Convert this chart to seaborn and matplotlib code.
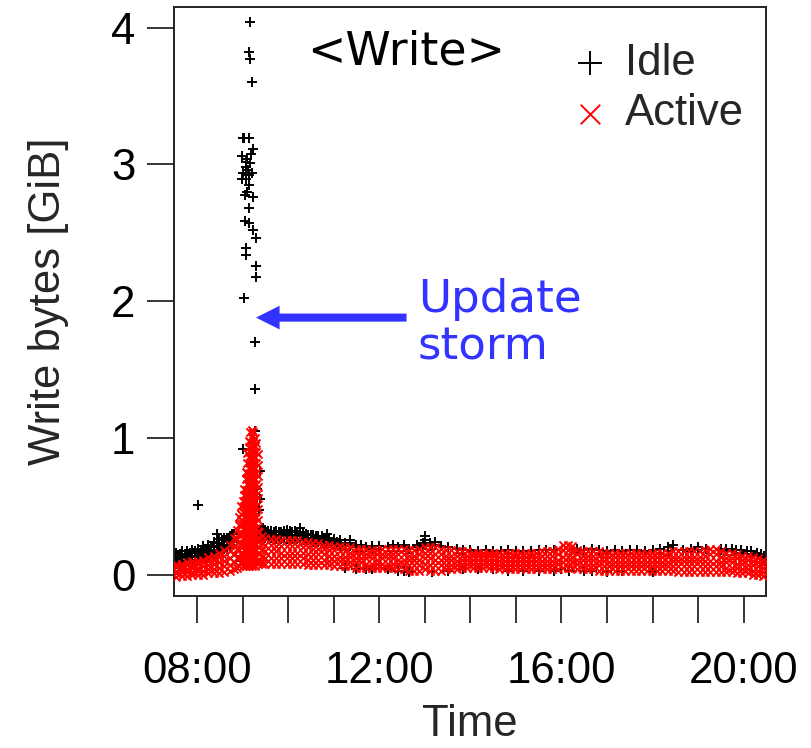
import matplotlib
matplotlib.use("Agg")
import matplotlib.pyplot as plt
import numpy as np
import pandas as pd
import seaborn as sns

# ---- data (time "HH:MM" -> write bytes in GiB) ----
# Active machines: one row per sample time, several machines per row.
active_rows = [
    ("07:33", [-0.02, 0.01, 0.03, 0.06, 0.08]),
    ("07:40", [-0.01, 0.02, 0.04, 0.06, 0.08]),
    ("07:47", [-0.01, 0.02, 0.04, 0.07, 0.09]),
    ("07:54", [0.00, 0.02, 0.05, 0.07, 0.10]),
    ("08:01", [0.00, 0.03, 0.05, 0.08, 0.10]),
    ("08:08", [0.00, 0.03, 0.06, 0.09, 0.11]),
    ("08:15", [0.01, 0.04, 0.07, 0.10, 0.13]),
    ("08:22", [0.01, 0.04, 0.08, 0.11, 0.14]),
    ("08:29", [0.01, 0.05, 0.09, 0.13, 0.16]),
    ("08:36", [0.02, 0.06, 0.10, 0.14, 0.18]),
    ("08:43", [0.03, 0.07, 0.12, 0.17, 0.22]),
    ("08:49", [0.04, 0.09, 0.15, 0.21, 0.27]),
    ("08:53", [0.05, 0.12, 0.19, 0.26, 0.33]),
    ("08:56", [0.06, 0.12, 0.18, 0.24, 0.30, 0.36, 0.42]),
    ("08:58", [0.09, 0.16, 0.23, 0.30, 0.37, 0.44, 0.50]),
    ("09:00", [0.06, 0.14, 0.22, 0.30, 0.38, 0.46, 0.54]),
    ("09:02", [0.10, 0.18, 0.26, 0.34, 0.42, 0.50, 0.58, 0.63]),
    ("09:04", [0.06, 0.14, 0.22, 0.30, 0.38, 0.46, 0.54, 0.62, 0.70, 0.75]),
    ("09:06", [0.10, 0.18, 0.26, 0.34, 0.42, 0.50, 0.58, 0.66, 0.74, 0.82, 0.89]),
    ("09:08", [0.06, 0.14, 0.22, 0.30, 0.38, 0.46, 0.54, 0.62, 0.70, 0.78, 0.86, 0.93, 0.98]),
    ("09:10", [0.10, 0.18, 0.26, 0.34, 0.42, 0.50, 0.58, 0.66, 0.74, 0.82, 0.90, 0.97, 1.04]),
    ("09:12", [0.06, 0.14, 0.22, 0.30, 0.38, 0.46, 0.54, 0.62, 0.70, 0.78, 0.86, 0.94, 1.01, 1.06]),
    ("09:14", [0.10, 0.18, 0.26, 0.34, 0.42, 0.50, 0.58, 0.66, 0.74, 0.82, 0.90, 0.98, 1.04]),
    ("09:16", [0.06, 0.14, 0.22, 0.30, 0.38, 0.46, 0.54, 0.62, 0.70, 0.78, 0.86, 0.94, 1.00]),
    ("09:18", [0.10, 0.18, 0.26, 0.34, 0.42, 0.50, 0.58, 0.66, 0.74, 0.82, 0.90, 0.96]),
    ("09:20", [0.08, 0.16, 0.24, 0.32, 0.40, 0.48, 0.56, 0.64, 0.72, 0.80, 0.88]),
    ("09:22", [0.10, 0.15, 0.20, 0.26, 0.31]),
    ("09:25", [0.08, 0.13, 0.18, 0.23, 0.28]),
    ("09:30", [0.08, 0.12, 0.17, 0.22, 0.27]),
    ("09:37", [0.08, 0.12, 0.17, 0.22, 0.26]),
    ("09:44", [0.08, 0.12, 0.17, 0.21, 0.26]),
    ("09:51", [0.08, 0.12, 0.16, 0.21, 0.25]),
    ("09:58", [0.08, 0.12, 0.16, 0.21, 0.25]),
    ("10:05", [0.08, 0.12, 0.16, 0.21, 0.25]),
    ("10:12", [0.08, 0.12, 0.16, 0.21, 0.25]),
    ("10:19", [0.08, 0.12, 0.16, 0.20, 0.24]),
    ("10:26", [0.07, 0.11, 0.15, 0.20, 0.24]),
    ("10:33", [0.07, 0.11, 0.15, 0.19, 0.23]),
    ("10:40", [0.07, 0.11, 0.15, 0.19, 0.23]),
    ("10:47", [0.07, 0.11, 0.15, 0.19, 0.22]),
    ("10:54", [0.07, 0.10, 0.14, 0.18, 0.22]),
    ("11:01", [0.06, 0.10, 0.14, 0.18, 0.21]),
    ("11:08", [0.06, 0.10, 0.13, 0.17, 0.21]),
    ("11:15", [0.06, 0.10, 0.13, 0.17, 0.20]),
    ("11:22", [0.06, 0.09, 0.13, 0.16, 0.20]),
    ("11:29", [0.05, 0.09, 0.12, 0.16, 0.19]),
    ("11:36", [0.05, 0.09, 0.12, 0.16, 0.19]),
    ("11:43", [0.05, 0.08, 0.12, 0.15, 0.19]),
    ("11:50", [0.05, 0.08, 0.12, 0.15, 0.18]),
    ("11:57", [0.05, 0.08, 0.11, 0.15, 0.18]),
    ("12:04", [0.05, 0.08, 0.12, 0.15, 0.19]),
    ("12:11", [0.05, 0.08, 0.12, 0.15, 0.19]),
    ("12:18", [0.05, 0.08, 0.12, 0.15, 0.19]),
    ("12:25", [0.04, 0.08, 0.11, 0.15, 0.19]),
    ("12:32", [0.04, 0.08, 0.11, 0.15, 0.19]),
    ("12:39", [0.03, 0.07, 0.11, 0.14, 0.18]),
    ("12:46", [0.03, 0.07, 0.11, 0.14, 0.18]),
    ("12:53", [0.03, 0.07, 0.11, 0.15, 0.19]),
    ("13:00", [0.04, 0.08, 0.12, 0.16, 0.20]),
    ("13:07", [0.03, 0.07, 0.12, 0.16, 0.20]),
    ("13:14", [0.03, 0.07, 0.11, 0.15, 0.20]),
    ("13:21", [0.03, 0.07, 0.11, 0.15, 0.19]),
    ("13:28", [0.04, 0.07, 0.11, 0.14, 0.18]),
    ("13:35", [0.04, 0.07, 0.11, 0.14, 0.18]),
    ("13:42", [0.04, 0.07, 0.10, 0.14, 0.17]),
    ("13:49", [0.05, 0.08, 0.11, 0.14, 0.17]),
    ("13:56", [0.05, 0.08, 0.11, 0.14, 0.17]),
    ("14:03", [0.05, 0.08, 0.11, 0.14, 0.16]),
    ("14:10", [0.05, 0.08, 0.11, 0.14, 0.16]),
    ("14:17", [0.05, 0.08, 0.11, 0.14, 0.16]),
    ("14:24", [0.05, 0.08, 0.11, 0.14, 0.16]),
    ("14:31", [0.05, 0.08, 0.11, 0.14, 0.16]),
    ("14:38", [0.04, 0.07, 0.10, 0.13, 0.16]),
    ("14:45", [0.04, 0.07, 0.10, 0.13, 0.16]),
    ("14:52", [0.04, 0.07, 0.10, 0.13, 0.16]),
    ("14:59", [0.04, 0.07, 0.10, 0.13, 0.16]),
    ("15:06", [0.04, 0.07, 0.10, 0.13, 0.16]),
    ("15:13", [0.04, 0.07, 0.10, 0.13, 0.16]),
    ("15:20", [0.04, 0.07, 0.10, 0.13, 0.16]),
    ("15:27", [0.04, 0.07, 0.10, 0.13, 0.16]),
    ("15:34", [0.04, 0.07, 0.10, 0.14, 0.17]),
    ("15:41", [0.04, 0.07, 0.10, 0.14, 0.17]),
    ("15:48", [0.04, 0.07, 0.10, 0.14, 0.17]),
    ("15:55", [0.04, 0.08, 0.11, 0.15, 0.19]),
    ("16:02", [0.05, 0.09, 0.13, 0.18, 0.22]),
    ("16:08", [0.05, 0.09, 0.13, 0.18, 0.22]),
    ("16:14", [0.05, 0.09, 0.13, 0.17, 0.21]),
    ("16:21", [0.04, 0.08, 0.11, 0.15, 0.18]),
    ("16:28", [0.04, 0.07, 0.11, 0.14, 0.17]),
    ("16:35", [0.04, 0.07, 0.11, 0.14, 0.17]),
    ("16:42", [0.04, 0.07, 0.11, 0.14, 0.17]),
    ("16:49", [0.03, 0.07, 0.10, 0.14, 0.17]),
    ("16:56", [0.03, 0.06, 0.10, 0.13, 0.16]),
    ("17:03", [0.03, 0.06, 0.09, 0.13, 0.16]),
    ("17:10", [0.03, 0.06, 0.09, 0.13, 0.16]),
    ("17:17", [0.03, 0.06, 0.09, 0.13, 0.16]),
    ("17:24", [0.03, 0.06, 0.09, 0.13, 0.16]),
    ("17:31", [0.03, 0.06, 0.09, 0.13, 0.16]),
    ("17:38", [0.03, 0.06, 0.09, 0.13, 0.16]),
    ("17:45", [0.03, 0.06, 0.09, 0.13, 0.16]),
    ("17:52", [0.03, 0.06, 0.09, 0.13, 0.16]),
    ("17:59", [0.03, 0.06, 0.09, 0.13, 0.16]),
    ("18:06", [0.03, 0.06, 0.09, 0.13, 0.16]),
    ("18:13", [0.03, 0.06, 0.09, 0.13, 0.16]),
    ("18:20", [0.03, 0.06, 0.09, 0.13, 0.16]),
    ("18:27", [0.03, 0.06, 0.10, 0.13, 0.17]),
    ("18:34", [0.02, 0.06, 0.10, 0.13, 0.17]),
    ("18:41", [0.02, 0.06, 0.10, 0.13, 0.17]),
    ("18:48", [0.02, 0.06, 0.10, 0.13, 0.17]),
    ("18:55", [0.02, 0.06, 0.10, 0.13, 0.17]),
    ("19:02", [0.02, 0.06, 0.10, 0.13, 0.17]),
    ("19:09", [0.02, 0.06, 0.10, 0.14, 0.18]),
    ("19:16", [0.02, 0.06, 0.10, 0.15, 0.19]),
    ("19:23", [0.02, 0.06, 0.10, 0.15, 0.19]),
    ("19:30", [0.02, 0.06, 0.09, 0.13, 0.17]),
    ("19:37", [0.02, 0.05, 0.09, 0.12, 0.16]),
    ("19:44", [0.02, 0.05, 0.09, 0.12, 0.16]),
    ("19:51", [0.01, 0.05, 0.08, 0.12, 0.15]),
    ("19:58", [0.01, 0.04, 0.08, 0.11, 0.14]),
    ("20:05", [0.01, 0.04, 0.07, 0.11, 0.14]),
    ("20:12", [0.00, 0.03, 0.07, 0.10, 0.13]),
    ("20:19", [0.00, 0.03, 0.06, 0.09, 0.12]),
    ("20:26", [-0.01, 0.02, 0.05, 0.08, 0.11]),
]

# Idle machines along the band.
idle_rows = [
    ("07:33", [0.08, 0.11, 0.14, 0.16]),
    ("07:37", [0.09, 0.12, 0.15]),
    ("07:40", [0.09, 0.12, 0.14, 0.17]),
    ("07:44", [0.09, 0.12, 0.15]),
    ("07:47", [0.10, 0.13, 0.15, 0.17]),
    ("07:51", [0.10, 0.13, 0.16]),
    ("07:54", [0.11, 0.14, 0.16, 0.18]),
    ("07:58", [0.11, 0.14, 0.17]),
    ("08:01", [0.11, 0.14, 0.16, 0.19, 0.51]),
    ("08:05", [0.12, 0.15, 0.18]),
    ("08:08", [0.12, 0.15, 0.18, 0.21]),
    ("08:12", [0.13, 0.16, 0.19]),
    ("08:15", [0.14, 0.17, 0.20, 0.22]),
    ("08:19", [0.14, 0.18, 0.21]),
    ("08:22", [0.15, 0.18, 0.21, 0.24]),
    ("08:26", [0.16, 0.20, 0.23, 0.30]),
    ("08:29", [0.17, 0.20, 0.23, 0.26]),
    ("08:33", [0.18, 0.21, 0.25]),
    ("08:36", [0.19, 0.22, 0.25, 0.27]),
    ("08:40", [0.20, 0.24, 0.27]),
    ("08:43", [0.22, 0.25, 0.28]),
    ("08:46", [0.24, 0.27, 0.30]),
    ("08:49", [0.27, 0.30]),
    ("08:58", [0.10, 0.14]),
    ("09:24", [0.29, 0.33]),
    ("09:27", [0.28, 0.31, 0.34]),
    ("09:30", [0.27, 0.30, 0.33]),
    ("09:34", [0.27, 0.30, 0.32]),
    ("09:37", [0.27, 0.29, 0.32]),
    ("09:41", [0.26, 0.29, 0.31]),
    ("09:44", [0.26, 0.29, 0.32]),
    ("09:48", [0.26, 0.28, 0.31]),
    ("09:51", [0.26, 0.28, 0.31]),
    ("09:55", [0.26, 0.29, 0.32]),
    ("09:58", [0.26, 0.28, 0.30, 0.33]),
    ("10:02", [0.26, 0.29, 0.32]),
    ("10:05", [0.26, 0.28, 0.31]),
    ("10:09", [0.26, 0.29, 0.32]),
    ("10:12", [0.26, 0.28, 0.31]),
    ("10:16", [0.25, 0.28, 0.31, 0.34]),
    ("10:19", [0.25, 0.28, 0.30]),
    ("10:23", [0.25, 0.27, 0.30]),
    ("10:26", [0.25, 0.27, 0.29]),
    ("10:30", [0.24, 0.27, 0.29]),
    ("10:33", [0.24, 0.26, 0.29]),
    ("10:37", [0.24, 0.26, 0.28]),
    ("10:40", [0.24, 0.26, 0.28]),
    ("10:44", [0.23, 0.26, 0.28]),
    ("10:47", [0.23, 0.25, 0.27]),
    ("10:51", [0.23, 0.25, 0.30]),
    ("10:54", [0.23, 0.25, 0.27]),
    ("11:01", [0.22, 0.24, 0.26]),
    ("11:05", [0.22, 0.24]),
    ("11:08", [0.21, 0.23, 0.25]),
    ("11:15", [0.21, 0.23, 0.05]),
    ("11:22", [0.21, 0.23, 0.25]),
    ("11:29", [0.20, 0.22, 0.04]),
    ("11:36", [0.20, 0.22]),
    ("11:43", [0.20, 0.04]),
    ("11:50", [0.19, 0.21, 0.04]),
    ("12:00", [0.19, 0.21]),
    ("12:11", [0.20, 0.04]),
    ("12:18", [0.20, 0.22]),
    ("12:25", [0.20, 0.03]),
    ("12:32", [0.20, 0.22, 0.03]),
    ("12:39", [0.19, 0.02]),
    ("12:50", [0.20, 0.22]),
    ("12:57", [0.21, 0.23]),
    ("13:00", [0.28, 0.25, 0.22]),
    ("13:07", [0.21, 0.23]),
    ("13:10", [0.21, 0.02]),
    ("13:14", [0.22, 0.24]),
    ("13:21", [0.21]),
    ("13:30", [0.20, 0.03]),
    ("13:42", [0.19]),
    ("13:50", [0.18, 0.04]),
    ("14:00", [0.18]),
    ("14:10", [0.17, 0.04]),
    ("14:20", [0.18]),
    ("14:30", [0.17, 0.04]),
    ("14:40", [0.17]),
    ("14:50", [0.18, 0.03]),
    ("15:00", [0.17]),
    ("15:10", [0.17, 0.03]),
    ("15:20", [0.17]),
    ("15:30", [0.18, 0.03]),
    ("15:40", [0.18]),
    ("15:50", [0.18, 0.03]),
    ("16:00", [0.04]),
    ("16:10", [0.03]),
    ("16:20", [0.19]),
    ("16:30", [0.18, 0.03]),
    ("16:40", [0.19, 0.03]),
    ("16:50", [0.18]),
    ("17:00", [0.17, 0.02]),
    ("17:10", [0.18]),
    ("17:20", [0.17, 0.03]),
    ("17:30", [0.18]),
    ("17:40", [0.18]),
    ("17:50", [0.17]),
    ("18:00", [0.18, 0.02]),
    ("18:10", [0.19]),
    ("18:20", [0.20, 0.17]),
    ("18:27", [0.22]),
    ("18:40", [0.18]),
    ("18:50", [0.19, 0.17]),
    ("19:00", [0.20, 0.18]),
    ("19:10", [0.19]),
    ("19:30", [0.18, 0.19]),
    ("19:37", [0.17, 0.19]),
    ("19:44", [0.17, 0.19]),
    ("19:50", [0.16, 0.18]),
    ("19:57", [0.16, 0.18]),
    ("20:04", [0.15, 0.17]),
    ("20:10", [0.15, 0.17]),
    ("20:17", [0.14, 0.16]),
    ("20:23", [0.13, 0.15]),
    ("20:27", [0.12, 0.14]),
]

# Idle machines during the update storm.
storm_t = ["09:10", "09:09", "09:10", "09:13", "09:01", "09:02", "09:09", "09:14",
           "08:59", "09:10", "09:05", "09:01", "09:12", "09:05", "08:59", "09:08",
           "09:06", "09:07", "09:04", "09:11", "09:09", "09:03", "09:14", "09:06",
           "09:08", "09:03", "09:08", "09:14", "09:18", "09:05", "09:05", "09:18",
           "09:18", "09:02", "09:17", "09:17", "09:17", "09:00", "09:23", "09:19",
           "09:19", "09:23", "09:22", "08:59"]
storm_y = [4.04, 3.82, 3.77, 3.60, 3.19, 3.19, 3.19, 3.11,
           3.06, 3.01, 2.98, 2.94, 2.94, 2.89, 2.89, 2.85,
           3.04, 2.96, 3.02, 3.08, 2.92, 2.78, 2.76, 2.80,
           2.68, 2.59, 2.57, 2.52, 2.46, 2.39, 2.34, 2.26,
           2.18, 2.02, 1.70, 1.36, 1.05, 0.92, 0.76, 0.63,
           0.57, 0.55, 0.47, 0.14]

x_ticks = [8, 9, 10, 11, 12, 13, 14, 15, 16, 17, 18, 19, 20]
x_labels = ["08:00", "", "", "", "12:00", "", "", "", "16:00", "", "", "", "20:00"]
y_ticks = [0, 1, 2, 3, 4]


def to_hours(s):
    h, m = s.split(":")
    return int(h) + int(m) / 60.0


def flatten(rows):
    xs, ys = [], []
    for t, vals in rows:
        for v in vals:
            xs.append(to_hours(t))
            ys.append(v)
    return pd.DataFrame({"time": xs, "bytes": ys})


idle = pd.concat([flatten(idle_rows),
                  pd.DataFrame({"time": [to_hours(t) for t in storm_t], "bytes": storm_y})])
active = flatten(active_rows)

sns.set_style("ticks")
plt.rcParams["font.family"] = ["Liberation Sans", "DejaVu Sans"]

fig = plt.figure(figsize=(8.11, 7.48), dpi=100)
ax = fig.add_axes([0.2149, 0.2036, 0.7296, 0.7864])

sns.scatterplot(data=idle, x="time", y="bytes", marker="+", color="black",
                s=55, linewidth=1.4, ax=ax, label="Idle", zorder=2)
sns.scatterplot(data=active, x="time", y="bytes", marker="x", color="#ff0000",
                s=34, linewidth=1.4, ax=ax, label="Active", zorder=3)

ax.set_xlim(7.502, 20.489)
ax.set_ylim(-0.154, 4.148)
ax.set_xticks(x_ticks)
ax.set_xticklabels(x_labels)
ax.set_yticks(y_ticks)
ax.set_yticklabels([str(v) for v in y_ticks])
ax.tick_params(axis="both", length=19.5, width=1.1, labelsize=31.5, colors="black")
ax.tick_params(axis="x", pad=20)
ax.tick_params(axis="y", pad=8.5)
for sp in ax.spines.values():
    sp.set_linewidth(1.4)
    sp.set_color("#222222")

ax.set_xlabel("Time", fontsize=31.5, labelpad=9)
ax.set_ylabel("Write bytes [GiB]", fontsize=31.5, labelpad=30)

leg = ax.legend(loc="upper left", bbox_to_anchor=(0.665, 0.94), frameon=False,
                fontsize=31.5, handlelength=1.0, handletextpad=0.3, labelspacing=0.22,
                borderpad=0, borderaxespad=0, markerscale=2.4)

ax.text(0.3916, 0.924, "<Write>", transform=ax.transAxes, ha="center", va="center",
        fontsize=33, family="DejaVu Sans", color="black")

ax.annotate("", xy=(9.295, 1.88), xytext=(12.60, 1.88),
            arrowprops=dict(width=5.8, headwidth=17, headlength=17, shrink=0,
                            color="#3333ff", linewidth=0))
ax.text(12.85, 1.84, "Update\nstorm", ha="left", va="center", fontsize=32.5,
        family="DejaVu Sans", color="#3333ff", linespacing=1.15)

fig.savefig("out.png", dpi=100)
